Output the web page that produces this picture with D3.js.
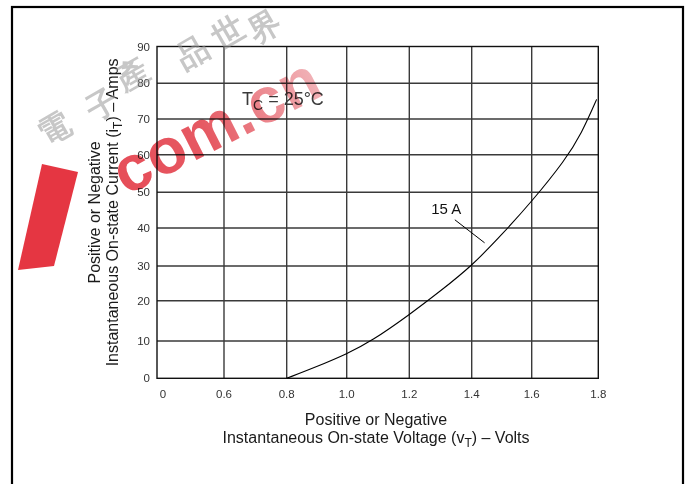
<!DOCTYPE html>
<html>
<head>
<meta charset="utf-8">
<script src="https://cdn.jsdelivr.net/npm/d3@7/dist/d3.min.js"></script>
<style>
  html, body { margin: 0; padding: 0; background: #fff; }
  svg { display: block; }
  text { font-family: "Liberation Sans", Arial, Helvetica, sans-serif; }
</style>
</head>
<body>
<svg id="chart" width="687" height="484"></svg>
<script>
// ---- data ----
const xTickValues = [0, 0.6, 0.8, 1.0, 1.2, 1.4, 1.6, 1.8];
const xTickLabels = ["0", "0.6", "0.8", "1.0", "1.2", "1.4", "1.6", "1.8"];
const yTickValues = [0, 10, 20, 30, 40, 50, 60, 70, 80, 90];
const voltage = [0.80, 0.90, 1.00, 1.08, 1.20, 1.30, 1.40, 1.50, 1.60, 1.70, 1.75, 1.795];
const current = [0, 3.1, 6.5, 10, 16.5, 22.8, 30, 38.2, 47.4, 58.5, 66, 75.5];
const seriesLabel = "15 A";
const labelPos = [1.27, 43.8];
const leader = [[1.346, 42.3], [1.443, 36.1]];
const xTitle = ["Positive or Negative", "Instantaneous On-state Voltage (v", "T", ") – Volts"];
const yTitle = ["Positive or Negative", "Instantaneous On-state Current (i", "T", ") – Amps"];

// ---- layout (pixel positions of the printed grid, which is slightly uneven) ----
const svg = d3.select("#chart");
const xGridPx = [163, 224, 286.7, 346.7, 409.3, 471.7, 531.7, 598.3];
const yGridPx = [378.3, 341, 300.7, 266, 228, 192.3, 154.7, 119, 83.3, 46.5];
const plot = { left: 157, right: 598.3, top: 46.5, bottom: 378.3 };

// broken x axis: 0 then 0.6 .. 1.8
const x = d3.scaleLinear().domain(xTickValues).range(xGridPx);
const y = d3.scaleLinear().domain(yTickValues).range(yGridPx);

// outer border
svg.append("rect").attr("x", 12).attr("y", 7).attr("width", 671).attr("height", 500)
  .attr("fill", "none").attr("stroke", "#000").attr("stroke-width", 2.2);

// grid
const g = svg.append("g");
g.selectAll("line.v").data(xTickValues.filter(v => v > 0 && v < 1.8)).enter().append("line")
  .attr("x1", d => x(d)).attr("x2", d => x(d)).attr("y1", plot.top).attr("y2", plot.bottom)
  .attr("stroke", "#3a3a3a").attr("stroke-width", 1.4);
g.selectAll("line.h").data(yTickValues.filter(v => v > 0 && v < 90)).enter().append("line")
  .attr("x1", plot.left).attr("x2", plot.right).attr("y1", d => y(d)).attr("y2", d => y(d))
  .attr("stroke", "#3a3a3a").attr("stroke-width", 1.4);
g.append("rect").attr("x", plot.left).attr("y", plot.top)
  .attr("width", plot.right - plot.left).attr("height", plot.bottom - plot.top)
  .attr("fill", "none").attr("stroke", "#111").attr("stroke-width", 1.4);

// tick labels
svg.append("g").selectAll("text").data(xTickValues).enter().append("text")
  .attr("x", d => x(d)).attr("y", 398).attr("text-anchor", "middle")
  .attr("font-size", 11.5).attr("fill", "#333").text((d, i) => xTickLabels[i]);
svg.append("g").selectAll("text").data(yTickValues).enter().append("text")
  .attr("x", 150).attr("y", d => y(d) + 4).attr("text-anchor", "end")
  .attr("font-size", 11.5).attr("fill", "#333").text(d => d);

// curve
const pts = voltage.map((v, i) => [v, current[i]]);
svg.append("path").datum(pts)
  .attr("d", d3.line().x(d => x(d[0])).y(d => y(d[1])).curve(d3.curveBasis))
  .attr("fill", "none").attr("stroke", "#000").attr("stroke-width", 1.1);

// annotation
svg.append("text").attr("x", x(labelPos[0])).attr("y", y(labelPos[1]))
  .attr("font-size", 15).attr("fill", "#111").text(seriesLabel);
svg.append("line").attr("x1", x(leader[0][0])).attr("y1", y(leader[0][1]))
  .attr("x2", x(leader[1][0])).attr("y2", y(leader[1][1]))
  .attr("stroke", "#000").attr("stroke-width", 1);

// T_C = 25°C
const tc = svg.append("text").attr("x", 242).attr("y", 105).attr("font-size", 18).attr("fill", "#3a3a3a");
tc.append("tspan").text("T");
tc.append("tspan").attr("dy", 5).attr("font-size", 14).text("C");
tc.append("tspan").attr("dy", -5).text(" = 25°C");

// axis titles
const xt = svg.append("g").attr("font-size", 16).attr("fill", "#1a1a1a").attr("text-anchor", "middle");
xt.append("text").attr("x", 376).attr("y", 425).text(xTitle[0]);
const xt2 = xt.append("text").attr("x", 376).attr("y", 443);
xt2.append("tspan").text(xTitle[1]);
xt2.append("tspan").attr("dy", 4).attr("font-size", 12).text(xTitle[2]);
xt2.append("tspan").attr("dy", -4).text(xTitle[3]);

const yc = (plot.top + plot.bottom) / 2;
const yt = svg.append("g").attr("font-size", 16).attr("fill", "#1a1a1a").attr("text-anchor", "middle");
yt.append("text").attr("transform", `translate(100,${yc}) rotate(-90)`).text(yTitle[0]);
const yt2 = yt.append("text").attr("transform", `translate(118,${yc}) rotate(-90)`);
yt2.append("tspan").text(yTitle[1]);
yt2.append("tspan").attr("dy", 4).attr("font-size", 12).text(yTitle[2]);
yt2.append("tspan").attr("dy", -4).text(yTitle[3]);

// watermark
const wm = svg.append("g").attr("pointer-events", "none");
const defs = svg.append("defs");
const grad = defs.append("linearGradient").attr("id", "wmgrad")
  .attr("x1", "0%").attr("x2", "100%").attr("y1", "0%").attr("y2", "0%");
grad.append("stop").attr("offset", "0%").attr("stop-color", "#e0202e");
grad.append("stop").attr("offset", "45%").attr("stop-color", "#e0303c");
grad.append("stop").attr("offset", "100%").attr("stop-color", "#eea0a6");
wm.append("polygon").attr("points", "42,164 78,172 54,266 18,270")
  .attr("fill", "#e2202e").attr("opacity", 0.9);
const cn = ["電", "子", "產", "品", "世", "界"];
const cnPos = [[54, 128], [102, 104], [132, 74], [192, 52], [228, 32], [264, 26]];
wm.selectAll("text.cn").data(cn).enter().append("text")
  .attr("transform", (d, i) => `translate(${cnPos[i][0]},${cnPos[i][1]}) rotate(-30)`)
  .attr("font-family", "Noto Sans CJK TC").attr("font-size", 32).attr("font-weight", "bold")
  .attr("text-anchor", "middle").attr("dominant-baseline", "central")
  .attr("fill", "#9a9a9a").attr("opacity", 0.55).text(d => d);
wm.append("text").attr("transform", "translate(126,196) rotate(-27)")
  .attr("font-family", "Liberation Sans, Arial, sans-serif").attr("font-weight", "bold")
  .attr("font-size", 64).attr("fill", "url(#wmgrad)").attr("opacity", 0.8)
  .style("mix-blend-mode", "multiply").text("com.cn");
</script>
</body>
</html>
